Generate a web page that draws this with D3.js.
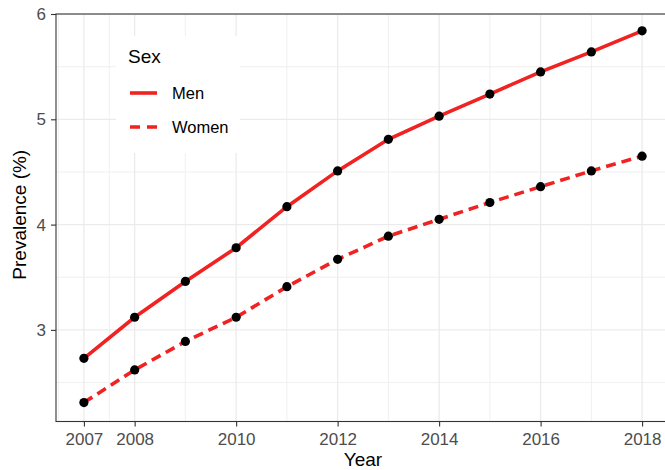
<!DOCTYPE html>
<html>
<head>
<meta charset="utf-8">
<script src="https://cdn.jsdelivr.net/npm/d3@7"></script>
<style>
  html, body { margin: 0; padding: 0; background: #fff; }
  svg { display: block; font-family: "Liberation Sans", Arial, Helvetica, sans-serif; }
</style>
</head>
<body>
<svg id="chart" width="665" height="470"></svg>
<script>
const years = [2007, 2008, 2009, 2010, 2011, 2012, 2013, 2014, 2015, 2016, 2017, 2018];
const menValues = [2.73, 3.12, 3.46, 3.78, 4.17, 4.51, 4.81, 5.03, 5.24, 5.45, 5.64, 5.84];
const womenValues = [2.31, 2.62, 2.89, 3.12, 3.41, 3.67, 3.89, 4.05, 4.21, 4.36, 4.51, 4.65];
const xTicks = [2007, 2008, 2010, 2012, 2014, 2016, 2018];
const xMinor = [2006.5, 2007.5, 2009, 2011, 2013, 2015, 2017];
const yTicks = [3, 4, 5, 6];
const yMinor = [2.5, 3.5, 4.5, 5.5];
const seriesNames = ["Men", "Women"];

const m = { left: 56, top: 14, right: 670, bottom: 421.5 };
const red = "#f02222";

const svg = d3.select("#chart");
const x = d3.scaleLinear().domain([2006.45, 2018.55]).range([m.left, m.right]);
const y = d3.scaleLinear().domain([2.13, 6.0]).range([m.bottom, m.top]);

svg.append("defs").append("clipPath").attr("id", "panel")
  .append("rect").attr("x", m.left).attr("y", m.top)
  .attr("width", m.right - m.left).attr("height", m.bottom - m.top);

const grid = svg.append("g").attr("clip-path", "url(#panel)");
grid.selectAll(".vminor").data(xMinor).join("line")
  .attr("x1", d => x(d)).attr("x2", d => x(d)).attr("y1", m.top).attr("y2", m.bottom)
  .attr("stroke", "#eeeeee").attr("stroke-width", 0.9);
grid.selectAll(".hminor").data(yMinor).join("line")
  .attr("x1", m.left).attr("x2", m.right).attr("y1", d => y(d)).attr("y2", d => y(d))
  .attr("stroke", "#eeeeee").attr("stroke-width", 0.9);
grid.selectAll(".vmajor").data(xTicks).join("line")
  .attr("x1", d => x(d)).attr("x2", d => x(d)).attr("y1", m.top).attr("y2", m.bottom)
  .attr("stroke", "#ebebeb").attr("stroke-width", 1.3);
grid.selectAll(".hmajor").data(yTicks).join("line")
  .attr("x1", m.left).attr("x2", m.right).attr("y1", d => y(d)).attr("y2", d => y(d))
  .attr("stroke", "#ebebeb").attr("stroke-width", 1.3);

const lg = svg.append("g");
lg.append("rect").attr("x", 116).attr("y", 36).attr("width", 124).attr("height", 117).attr("fill", "#fff");

const plot = svg.append("g").attr("clip-path", "url(#panel)");
const line = d3.line().x((d, i) => x(years[i])).y(d => y(d));
plot.append("path").datum(menValues).attr("d", line)
  .attr("fill", "none").attr("stroke", red).attr("stroke-width", 3.6);
plot.append("path").datum(womenValues).attr("d", line)
  .attr("fill", "none").attr("stroke", red).attr("stroke-width", 3.6)
  .attr("stroke-dasharray", "10,6");
[menValues, womenValues].forEach(vals => {
  plot.selectAll(null).data(vals).join("circle")
    .attr("cx", (d, i) => x(years[i])).attr("cy", d => y(d)).attr("r", 4.6)
    .attr("fill", "#000");
});

const xAxis = d3.axisBottom(x).tickValues(xTicks).tickFormat(d3.format("d")).tickSize(5).tickSizeOuter(0);
const gx = svg.append("g").attr("transform", `translate(0,${m.bottom})`).call(xAxis);
gx.select(".domain").remove();
gx.selectAll(".tick line").attr("stroke", "#333").attr("stroke-width", 1.1);
gx.selectAll(".tick text").attr("fill", "#4d4d4d").attr("font-size", 17).attr("dy", null).attr("y", 23)
  .attr("font-family", "Liberation Sans, Arial, sans-serif");

const yAxis = d3.axisLeft(y).tickValues(yTicks).tickFormat(d3.format("d")).tickSize(5).tickSizeOuter(0);
const gy = svg.append("g").attr("transform", `translate(${m.left},0)`).call(yAxis);
gy.select(".domain").remove();
gy.selectAll(".tick line").attr("stroke", "#333").attr("stroke-width", 1.1);
gy.selectAll(".tick text").attr("fill", "#4d4d4d").attr("font-size", 17).attr("x", -10)
  .attr("font-family", "Liberation Sans, Arial, sans-serif");

svg.append("rect").attr("x", m.left).attr("y", m.top)
  .attr("width", m.right - m.left).attr("height", m.bottom - m.top)
  .attr("fill", "none").attr("stroke", "#333").attr("stroke-width", 1.1);

svg.append("text").attr("x", (m.left + m.right) / 2).attr("y", 466)
  .attr("text-anchor", "middle").attr("font-size", 19).attr("fill", "#000").text("Year");
svg.append("text").attr("transform", `translate(25.5,${(m.top + m.bottom) / 2 - 3}) rotate(-90)`)
  .attr("text-anchor", "middle").attr("font-size", 19).attr("fill", "#000").text("Prevalence (%)");

lg.append("text").attr("x", 128).attr("y", 63).attr("font-size", 19).attr("fill", "#000").text("Sex");
seriesNames.forEach((name, i) => {
  const ky = 93 + i * 34;
  lg.append("line").attr("x1", 130).attr("x2", 157).attr("y1", ky).attr("y2", ky)
    .attr("stroke", red).attr("stroke-width", 3.6)
    .attr("stroke-dasharray", i === 1 ? "10,7" : null);
  lg.append("text").attr("x", 172).attr("y", ky + 6).attr("font-size", 16.5).attr("fill", "#000").text(name);
});
</script>
</body>
</html>
